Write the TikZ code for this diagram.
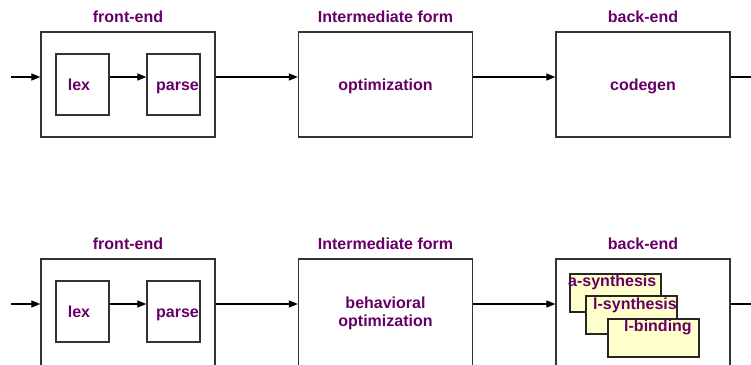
\documentclass[tikz,border=0pt]{standalone}
\usepackage{fontspec}
\setmainfont{Liberation Sans}
\usetikzlibrary{arrows.meta}
\definecolor{txtpurple}{HTML}{660066}
\definecolor{paleyellow}{HTML}{FFFFCC}
\tikzset{
  lbl/.style={text=txtpurple, font=\fontsize{16}{18}\selectfont\bfseries, inner sep=0pt,
              text height=11.5pt, text depth=0pt},
  stage/.style={draw=black!80, line width=1.3pt, minimum width=174pt, minimum height=105pt, inner sep=0pt, lbl, align=center},
  sub/.style={draw=black!80, line width=1.3pt, minimum width=53pt, minimum height=61pt, inner sep=0pt, lbl},
  task/.style={draw=black!85, line width=1.3pt, fill=paleyellow, minimum width=91pt, minimum height=38pt, inner sep=0pt},
  arr/.style={line width=1.2pt, -{Triangle[length=9pt,width=7pt]}},
  wire/.style={line width=1.2pt}
}
\begin{document}
\begin{tikzpicture}[x=1pt,y=-1pt]
\useasboundingbox (0,0) rectangle (751,364);

% ---------- upper pipeline ----------
\node[lbl] (t1) at (128,16.5) {front-end};
\node[lbl] (t2) at (385.5,16.5) {Intermediate form};
\node[lbl] (t3) at (643,16.5) {back-end};

\node[stage] (fe1) at (128,84.5) {};
\node[sub] (lex1) at (82.5,84.5) {lex\hspace*{7pt}};
\node[sub] (parse1) at (173.5,84.5) {\hspace*{8pt}parse};
\node[stage] (im1) at (385.5,84.5) {optimization};
\node[stage] (be1) at (643,84.5) {codegen};

\coordinate (in1) at (11,77);
\coordinate (out1) at (751,77);
\draw[arr] (in1) -- (in1 -| fe1.west);
\draw[arr] (lex1.east |- in1) -- (parse1.west |- in1);
\draw[arr] (fe1.east |- in1) -- (im1.west |- in1);
\draw[arr] (im1.east |- in1) -- (be1.west |- in1);
\draw[wire] (be1.east |- in1) -- (out1);

% ---------- lower pipeline (boxes run past the lower edge) ----------
\node[lbl] (b1) at (128,243.5) {front-end};
\node[lbl] (b2) at (385.5,243.5) {Intermediate form};
\node[lbl] (b3) at (643,243.5) {back-end};

\node[stage, minimum height=112pt] (fe2) at (128,315) {};
\node[sub] (lex2) at (82.5,311.5) {lex\hspace*{7pt}};
\node[sub] (parse2) at (173.5,311.5) {\hspace*{8pt}parse};
\node[stage, minimum height=112pt] (im2) at (385.5,315) {};
\node[lbl, align=center, text height=29.5pt] (im2t) at (385.5,311.5) {behavioral\\optimization};
\node[stage, minimum height=112pt] (be2) at (643,315) {};

\node[task] (as) at (615.5,293) {};
\node[lbl, anchor=west] (ast) at (568,281) {a-synthesis};
\node[task] (ls) at (631.5,315) {};
\node[lbl, anchor=west] (lst) at (593,303.5) {l-synthesis};
\node[task] (lb) at (653.5,338) {};
\node[lbl, anchor=west] (lbt) at (624,326) {l-binding};

\coordinate (in2) at (11,304);
\coordinate (out2) at (751,304);
\draw[arr] (in2) -- (in2 -| fe2.west);
\draw[arr] (lex2.east |- in2) -- (parse2.west |- in2);
\draw[arr] (fe2.east |- in2) -- (im2.west |- in2);
\draw[arr] (im2.east |- in2) -- (be2.west |- in2);
\draw[wire] (be2.east |- in2) -- (out2);
\end{tikzpicture}
\end{document}
